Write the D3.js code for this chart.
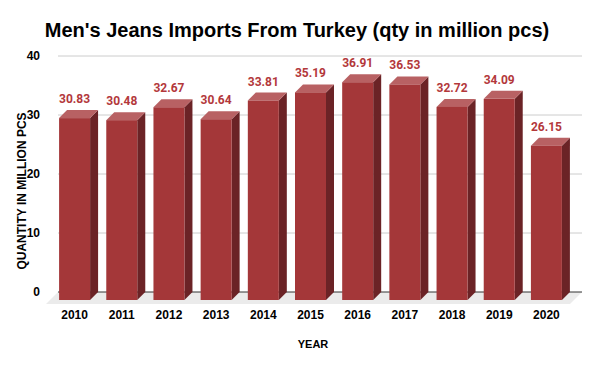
<!DOCTYPE html>
<html>
<head>
<meta charset="utf-8">
<script src="https://cdn.jsdelivr.net/npm/d3@7"></script>
<style>
  body { margin: 0; background: #fff; }
  text { font-family: "Liberation Sans", Arial, sans-serif; }
</style>
</head>
<body>
<div class="article"></div>
<script>
// chart data
var years = ["2010", "2011", "2012", "2013", "2014", "2015", "2016", "2017", "2018", "2019", "2020"];
var qty = [30.83, 30.48, 32.67, 30.64, 33.81, 35.19, 36.91, 36.53, 32.72, 34.09, 26.15];
var yTicks = [0, 10, 20, 30, 40];

var svgWidth = 600;
var svgHeight = 371;

// plot area (back plane of the 3d chart)
var margin = { top: 56, right: 18, bottom: 79, left: 58 };
var chartWidth = svgWidth - margin.left - margin.right;
var chartHeight = svgHeight - margin.top - margin.bottom;

// depth of the bars and the floor
var depth = 8;
var floorDepth = 12;

var svg = d3.select(".article")
  .append("svg")
  .attr("width", svgWidth)
  .attr("height", svgHeight);

// title
svg.append("text")
  .attr("x", 297)
  .attr("y", 37)
  .attr("text-anchor", "middle")
  .style("font-size", "20px")
  .style("font-weight", "bold")
  .attr("fill", "#000")
  .text("Men's Jeans Imports From Turkey (qty in million pcs)");

var chartGroup = svg.append("g")
  .attr("transform", `translate(${margin.left}, ${margin.top})`);

var xScale = d3.scaleBand()
  .domain(years)
  .range([1, 520])
  .paddingInner(0.343)
  .paddingOuter(0.1715);

var yScale = d3.scaleLinear()
  .domain([0, 40])
  .range([chartHeight, 0]);

// floor
chartGroup.append("path")
  .attr("d", `M0,${chartHeight} L${chartWidth},${chartHeight} L${chartWidth - floorDepth},${chartHeight + floorDepth} L${-floorDepth},${chartHeight + floorDepth} Z`)
  .attr("fill", "#ebebeb");

// gridlines
chartGroup.selectAll(".grid")
  .data(yTicks)
  .enter()
  .append("line")
  .attr("x1", 0)
  .attr("x2", chartWidth)
  .attr("y1", d => yScale(d))
  .attr("y2", d => yScale(d))
  .attr("stroke", d => d === 0 ? "#333" : "#cccccc")
  .attr("stroke-width", 1);

// left axis labels
var leftAxis = d3.axisLeft(yScale).tickValues(yTicks).tickSize(0).tickPadding(18);
var yAxisG = chartGroup.append("g").call(leftAxis);
yAxisG.select(".domain").remove();
yAxisG.selectAll("text")
  .style("font-size", "12px")
  .style("font-weight", "bold")
  .attr("fill", "#000");

// bottom axis labels, centred under the front faces
var bottomAxis = d3.axisBottom(xScale).tickSize(0).tickPadding(18);
var xAxisG = chartGroup.append("g")
  .attr("transform", `translate(${-depth}, ${chartHeight})`)
  .call(bottomAxis);
xAxisG.select(".domain").remove();
xAxisG.selectAll("text")
  .style("font-size", "12px")
  .style("font-weight", "bold")
  .attr("fill", "#000");

// bars
var bw = xScale.bandwidth();
var bars = chartGroup.selectAll(".bar")
  .data(qty)
  .enter()
  .append("g")
  .attr("class", "bar");

// side face
bars.append("path")
  .attr("d", (d, i) => {
    var x = xScale(years[i]) + bw;
    var y = yScale(d);
    return `M${x - depth},${y + depth} L${x},${y} L${x},${chartHeight} L${x - depth},${chartHeight + depth} Z`;
  })
  .attr("fill", "#6b2326");

// top face
bars.append("path")
  .attr("d", (d, i) => {
    var x = xScale(years[i]);
    var y = yScale(d);
    return `M${x - depth},${y + depth} L${x},${y} L${x + bw},${y} L${x + bw - depth},${y + depth} Z`;
  })
  .attr("fill", "#b86163");

// front face
bars.append("rect")
  .attr("x", (d, i) => xScale(years[i]) - depth)
  .attr("y", d => yScale(d) + depth)
  .attr("width", bw)
  .attr("height", d => chartHeight - yScale(d))
  .attr("fill", "#a43739");

// value labels
bars.append("text")
  .attr("x", (d, i) => xScale(years[i]) - depth + bw / 2)
  .attr("y", d => yScale(d) - 7)
  .attr("text-anchor", "middle")
  .style("font-family", "Roboto, sans-serif")
  .style("font-size", "12px")
  .style("font-weight", "bold")
  .attr("fill", "#b3383b")
  .text(d => d3.format(".2f")(d));

// axis titles
svg.append("text")
  .attr("transform", "translate(26, 191) rotate(-90)")
  .attr("text-anchor", "middle")
  .style("font-size", "12px")
  .style("font-weight", "bold")
  .attr("fill", "#000")
  .text("QUANTITY IN MILLION PCS");

svg.append("text")
  .attr("x", 313)
  .attr("y", 348)
  .attr("text-anchor", "middle")
  .style("font-size", "11px")
  .style("font-weight", "bold")
  .attr("fill", "#000")
  .text("YEAR");
</script>
</body>
</html>
